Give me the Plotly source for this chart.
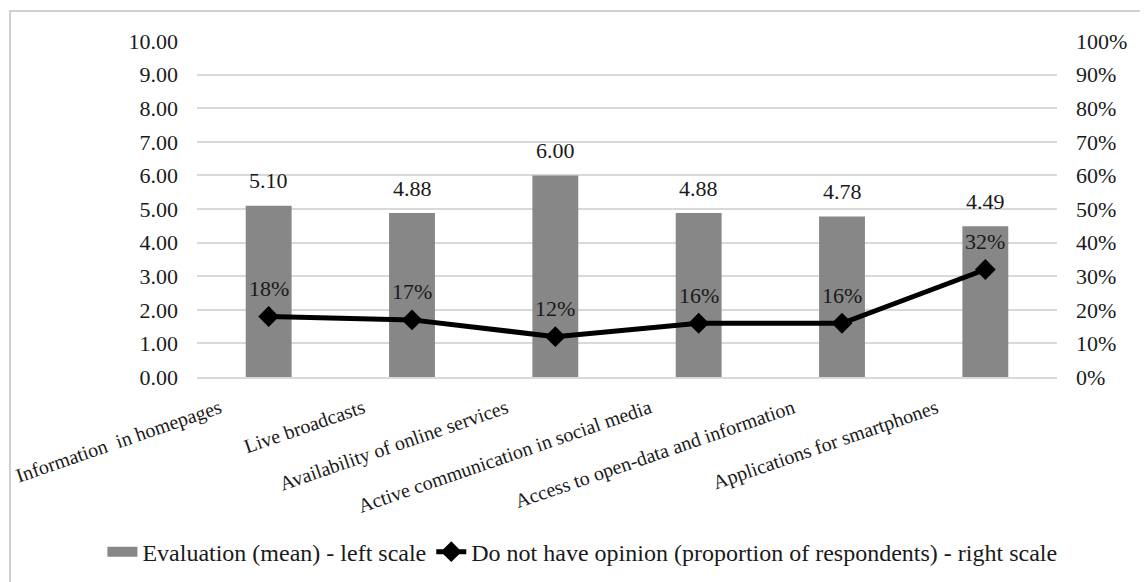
import plotly.graph_objects as go

categories = ['Information\u00a0 in homepages', 'Live broadcasts', 'Availability of online services',
              'Active communication in social media', 'Access to open-data and information',
              'Applications for smartphones']
evaluation = [5.10, 4.88, 6.00, 4.88, 4.78, 4.49]
no_opinion = [0.18, 0.17, 0.12, 0.16, 0.16, 0.32]

left_ticks = [i for i in range(0, 11)]
right_ticks = [i / 10 for i in range(0, 11)]

serif = 'Liberation Serif, Times New Roman, serif'
ink = '#1a1a1a'
bar_name = 'Evaluation (mean) - left scale'
line_name = 'Do not have opinion (proportion of respondents) - right scale'

fig = go.Figure()
fig.add_trace(go.Bar(
    x=categories, y=evaluation, name=bar_name, showlegend=False,
    marker=dict(color='#878787', line=dict(width=0)), width=0.32,
))
# legend entry drawn as a wide gray strip, like the original
fig.add_trace(go.Scatter(x=[None], y=[None], mode='lines', name=bar_name,
                         line=dict(color='#878787', width=10)))
fig.add_trace(go.Scatter(
    x=categories, y=no_opinion, name=line_name,
    yaxis='y2', mode='lines+markers',
    line=dict(color='black', width=5),
    marker=dict(symbol='diamond', size=16, color='black'),
    cliponaxis=False,
))

annotations = []
for c, v in zip(categories, evaluation):
    annotations.append(dict(x=c, y=v, xref='x', yref='y', text=f'{v:.2f}', showarrow=False,
                            yshift=25, font=dict(family=serif, size=22, color=ink)))
for c, v in zip(categories, no_opinion):
    annotations.append(dict(x=c, y=v, xref='x', yref='y2', text=f'{v:.0%}', showarrow=False,
                            yshift=28, font=dict(family=serif, size=22, color=ink)))

fig.update_layout(
    width=1148, height=582,
    margin=dict(l=189, r=99, t=33, b=213, autoexpand=False),
    paper_bgcolor='white', plot_bgcolor='white',
    font=dict(family=serif, size=22, color=ink),
    showlegend=True,
    legend=dict(orientation='h', x=-0.11, xanchor='left', y=-0.521, yanchor='middle',
                font=dict(family=serif, size=24, color=ink), tracegroupgap=0),
    xaxis=dict(tickangle=-19, showgrid=False, showline=True, linecolor='#d9d9d9', linewidth=2,
               tickfont=dict(family=serif, size=20, color=ink), ticks='',
               ticklabelshift=-49, ticklabelstandoff=10, automargin=False),
    yaxis=dict(range=[0, 10], tickvals=left_ticks, tickformat='.2f', showgrid=True,
               gridcolor='#d9d9d9', gridwidth=2, zeroline=False, ticklabelstandoff=18,
               tickfont=dict(family=serif, size=22, color=ink), automargin=False),
    yaxis2=dict(range=[0, 1], tickvals=right_ticks, tickformat='.0%', overlaying='y', side='right',
                showgrid=False, zeroline=False, ticklabelstandoff=18,
                tickfont=dict(family=serif, size=22, color=ink), automargin=False),
    annotations=annotations,
    shapes=[dict(type='rect', xref='paper', yref='paper', x0=-0.2174, x1=1.2, y0=-0.7, y1=1.089,
                 line=dict(color='#d0d0d0', width=2), fillcolor='rgba(0,0,0,0)', layer='below')],
)

fig.write_html('out.html')
